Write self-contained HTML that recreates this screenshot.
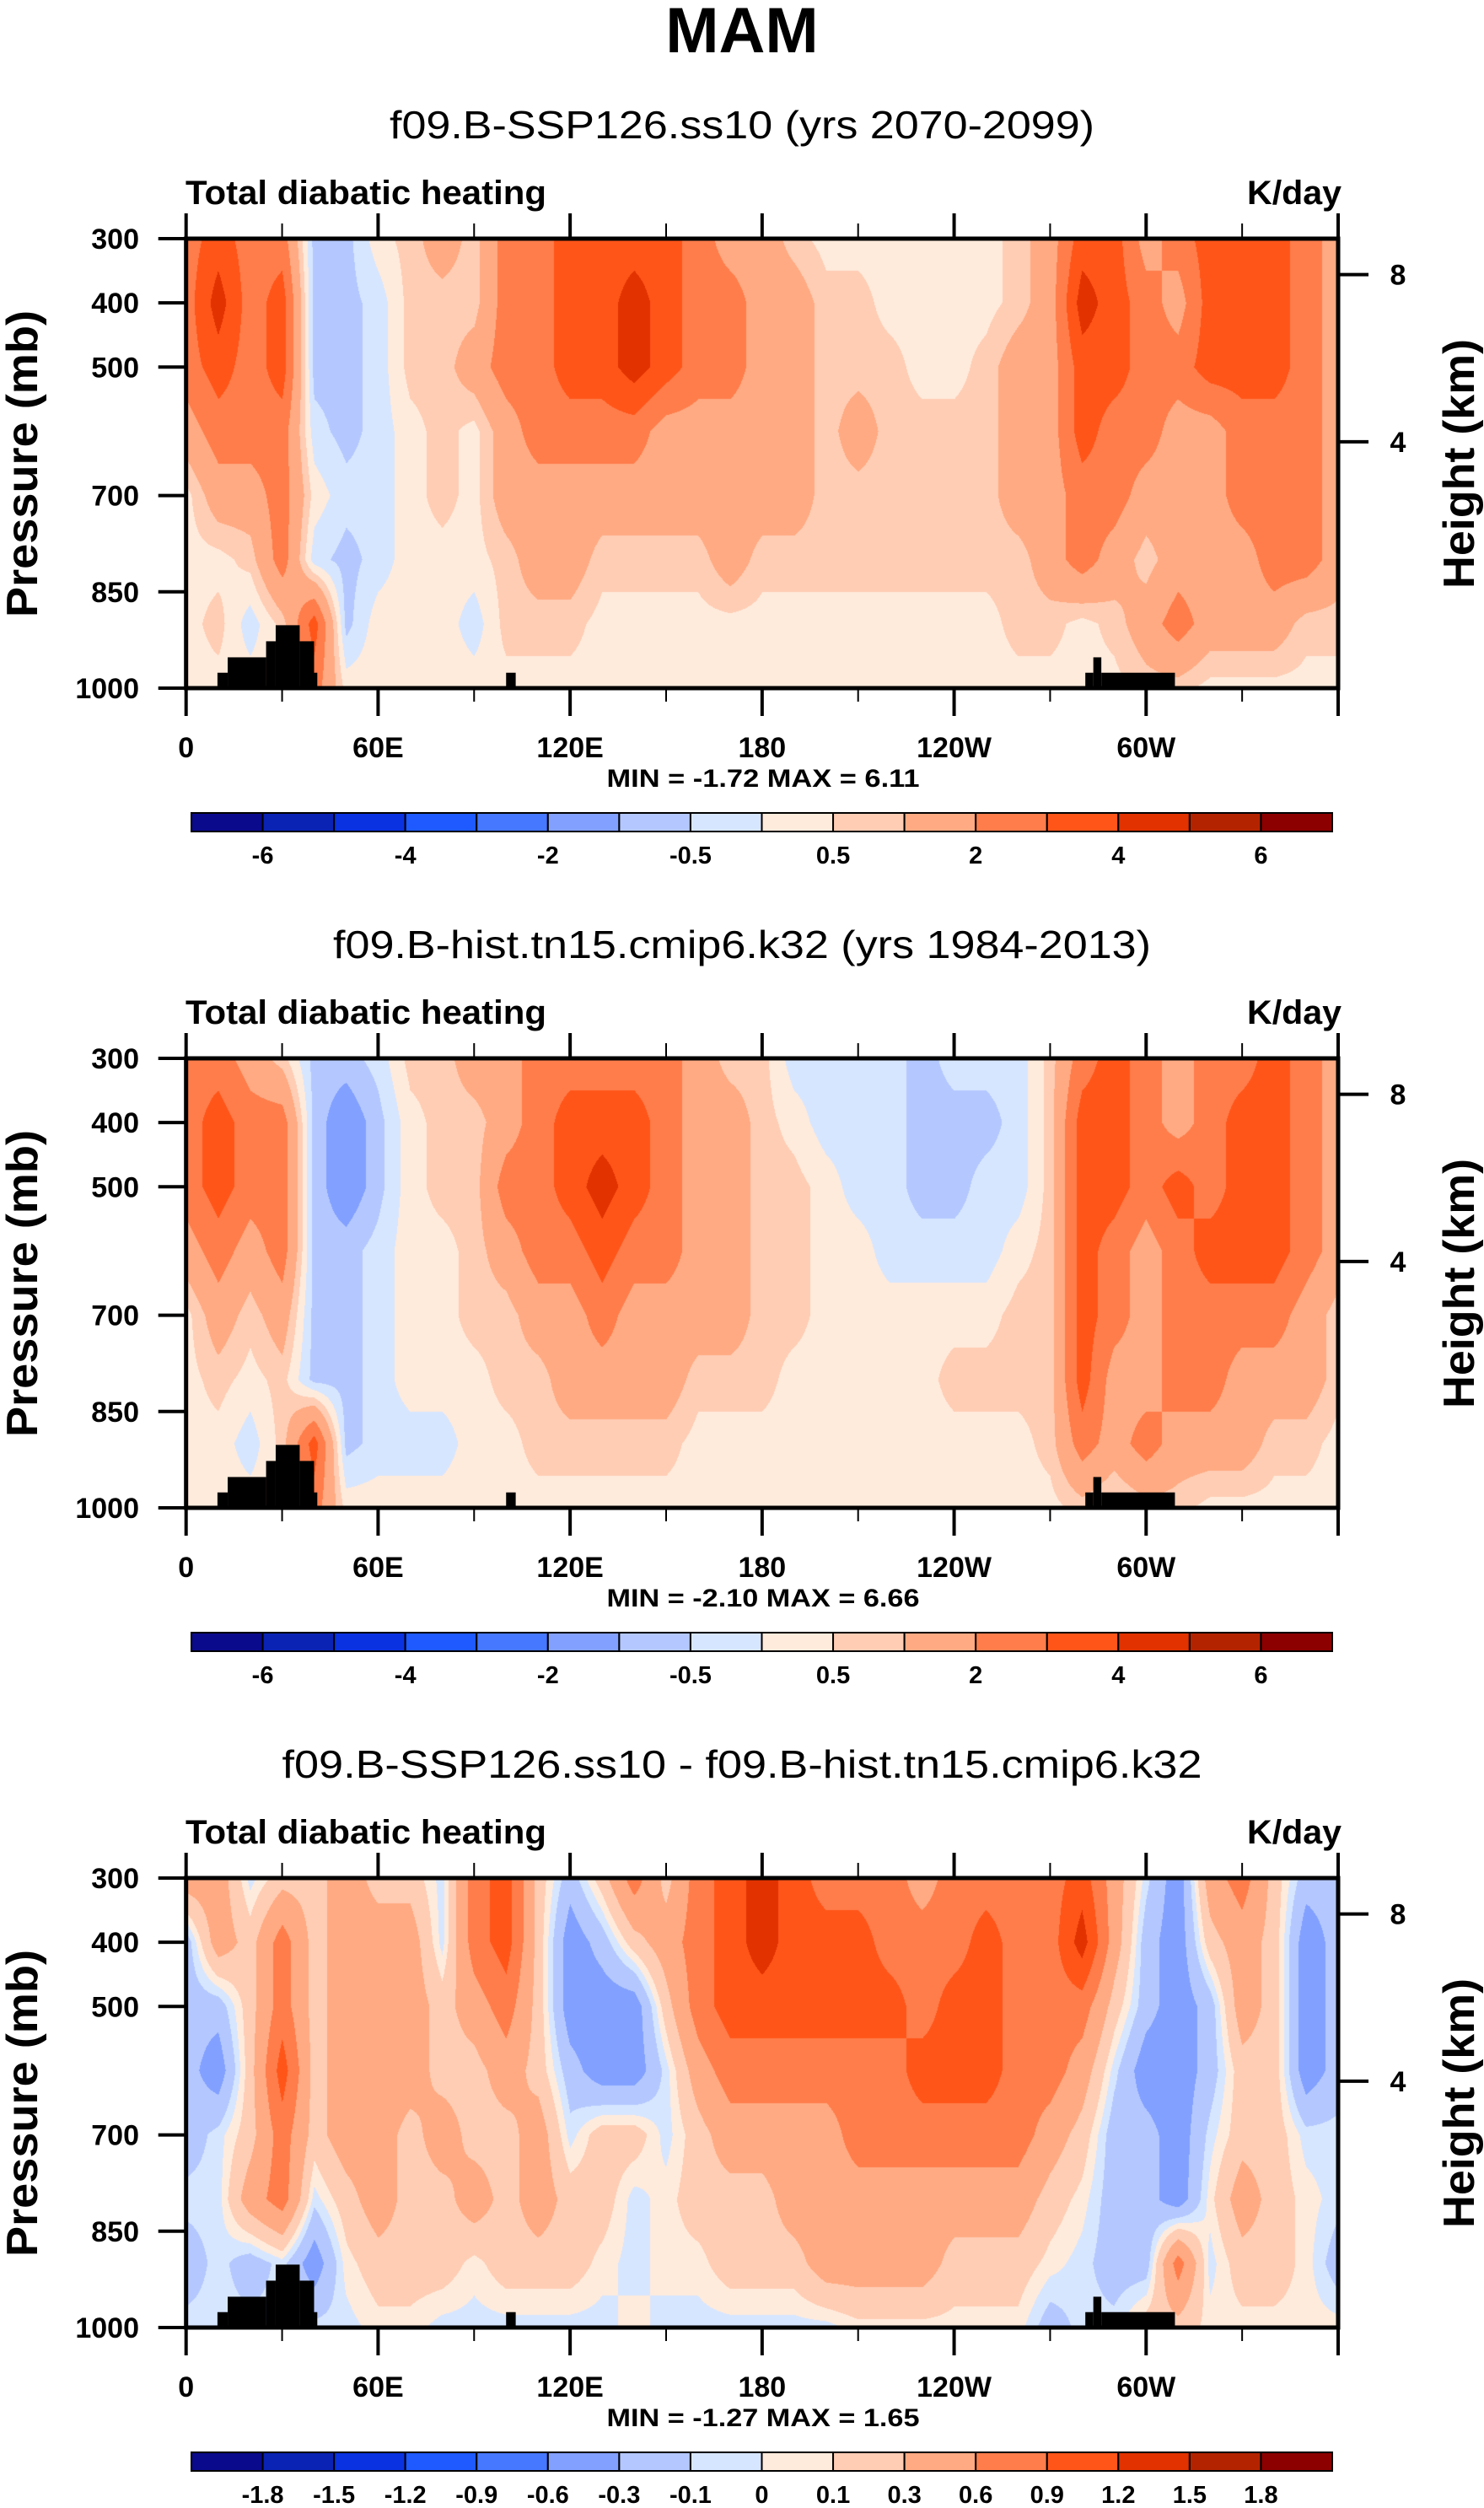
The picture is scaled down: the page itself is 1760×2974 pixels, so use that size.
<!DOCTYPE html>
<html><head><meta charset="utf-8">
<style>
html,body{margin:0;padding:0;background:#fff;}
#wrap{position:relative;width:1760px;height:2974px;overflow:hidden;}
canvas{position:absolute;}
svg{position:absolute;left:0;top:0;}
</style></head>
<body>
<div id="wrap">
<canvas id="c0"></canvas>
<canvas id="c1"></canvas>
<canvas id="c2"></canvas>
<svg id="svg" width="1760" height="2974" xmlns="http://www.w3.org/2000/svg"></svg>
</div>
<script>
// ---- data ----
const lons = [0,10,20,30,40,50,60,70,80,90,100,110,120,130,140,150,160,170,180,190,200,210,220,230,240,250,260,270,280,290,300,310,320,330,340,350,360];
const pLevels = [300,400,500,600,700,800,900,1000];
const xTickLabels = ["0","60E","120E","180","120W","60W"];
const yTickLabels = [300,400,500,700,850,1000];
const kmTicks = [8,4];
const titles = ["f09.B-SSP126.ss10 (yrs 2070-2099)","f09.B-hist.tn15.cmip6.k32 (yrs 1984-2013)","f09.B-SSP126.ss10 - f09.B-hist.tn15.cmip6.k32"];
const minmax = ["MIN =  -1.72  MAX =   6.11","MIN =  -2.10  MAX =   6.66","MIN =  -1.27  MAX =   1.65"];
const levelsAbs = [-6,-5,-4,-3,-2,-1,-0.5,0,0.5,1,2,3,4,5,6];
const levelsDiff = [-1.8,-1.5,-1.2,-0.9,-0.6,-0.3,-0.1,0,0.1,0.3,0.6,0.9,1.2,1.5,1.8];
const labelsAbs = ["-6","","-4","","-2","","-0.5","","0.5","","2","","4","","6"];
const labelsDiff = ["-1.8","-1.5","-1.2","-0.9","-0.6","-0.3","-0.1","0","0.1","0.3","0.6","0.9","1.2","1.5","1.8"];
const colors = ["#0a0a8c","#0a23b4","#0a32e1","#1e5aff","#4678ff","#82a0ff","#b4c8ff","#d7e6ff","#ffebdc","#ffcdb4","#ffaa82","#ff7d4b","#ff5519","#e13200","#b42300","#8c0000"];
const topoLon0 = [9.8,13,25,28,35.5,40,100,281,283.5,286];
const topoLon1 = [13,25,28,35.5,40,41,103,283.5,286,309];
const topoP = [976,952,927,902,927,976,976,976,952,976];

const p1 = [
[2.5,3.5,2.5,2.5,-0.7,-0.7,0.3,0.7,1.5,0.7,2.5,2.5,3.5,3.5,3.5,3.5,2.5,1.5,1.5,0.7,0.3,0.3,0.3,0.3,0.3,0.3,0.7,1.5,3.5,3.5,1.5,2.5,3.5,3.5,3.5,2.5,1.5],
[2.5,4.5,2.5,3.5,-0.7,-0.7,-0.3,0.7,0.7,0.7,2.5,2.5,3.5,3.5,4.5,3.5,2.5,2.5,1.5,1.5,0.7,0.7,0.3,0.3,0.3,0.3,0.7,1.5,4.5,3.5,2.5,1.5,3.5,3.5,3.5,2.5,1.5],
[2.5,3.5,2.5,3.5,-0.7,-0.7,-0.3,0.7,0.7,1.5,2.5,2.5,3.5,3.5,4.5,3.5,2.5,2.5,1.5,1.5,0.7,0.7,0.7,0.3,0.3,0.7,1.5,1.5,3.5,3.5,2.5,2.5,3.5,3.5,3.5,2.5,1.5],
[1.5,2.5,2.5,2.5,-0.3,-0.7,-0.3,0.3,0.7,0.3,1.5,2.5,2.5,2.5,2.5,1.5,1.5,1.5,1.5,1.5,0.7,1.5,0.7,0.7,0.7,0.7,1.5,1.5,3.5,2.5,2.5,1.5,1.5,2.5,2.5,2.5,1.5],
[0.3,1.5,1.5,2.5,0.3,-0.3,-0.3,0.3,0.7,0.3,1.5,1.5,1.5,1.5,1.5,1.5,1.5,1.5,1.5,1.5,0.7,0.7,0.7,0.7,0.7,0.7,1.5,1.5,2.5,2.5,1.5,1.5,1.5,2.5,2.5,2.5,1.5],
[0.3,0.3,0.7,2.5,-0.3,-0.7,-0.3,0.3,0.3,0.3,0.7,1.5,1.5,0.7,0.7,0.7,0.7,1.5,0.7,0.7,0.7,0.7,0.7,0.7,0.7,0.7,0.7,1.5,2.5,1.5,0.7,1.5,1.5,1.5,2.5,2.5,1.5],
[0.3,0.7,-0.3,0.7,3.5,-0.7,0.3,0.3,0.3,-0.3,0.7,0.7,0.7,0.3,0.3,0.3,0.3,0.3,0.3,0.3,0.3,0.3,0.3,0.3,0.3,0.3,0.7,0.7,0.3,0.7,1.5,2.5,1.5,1.5,1.5,0.7,0.7],
[0.3,0.3,0.3,0.3,2.5,0.3,0.3,0.3,0.3,0.3,0.3,0.3,0.3,0.3,0.3,0.3,0.3,0.3,0.3,0.3,0.3,0.3,0.3,0.3,0.3,0.3,0.3,0.3,0.3,0.3,0.7,0.7,0.3,0.3,0.3,0.3,0.3]
];
const p2 = [
[2.5,2.5,1.5,0.7,-0.7,-0.7,-0.3,0.7,0.7,1.5,1.5,2.5,2.5,2.5,2.5,2.5,1.5,0.7,0.7,-0.3,-0.3,-0.3,-0.3,-0.7,-0.3,-0.3,-0.3,0.7,2.5,3.5,2.5,1.5,2.5,2.5,3.5,2.5,1.5],
[2.5,3.5,2.5,2.5,-0.7,-1.5,-0.7,0.3,0.7,0.7,1.5,2.5,3.5,3.5,3.5,2.5,1.5,1.5,0.7,0.3,-0.3,-0.3,-0.3,-0.7,-0.7,-0.7,-0.3,0.7,3.5,3.5,2.5,1.5,2.5,3.5,3.5,2.5,1.5],
[2.5,3.5,2.5,2.5,-0.7,-1.5,-0.7,0.3,0.7,0.7,2.5,2.5,3.5,4.5,3.5,2.5,1.5,1.5,0.7,0.7,0.3,-0.3,-0.3,-0.7,-0.7,-0.3,-0.3,0.7,3.5,3.5,2.5,3.5,2.5,3.5,3.5,2.5,1.5],
[1.5,2.5,1.5,2.5,-0.7,-0.7,-0.3,0.3,0.3,0.7,1.5,2.5,2.5,3.5,2.5,2.5,1.5,1.5,0.7,0.7,0.3,0.3,-0.3,-0.3,-0.3,-0.3,0.3,0.7,3.5,2.5,1.5,2.5,3.5,3.5,3.5,2.5,1.5],
[0.3,1.5,0.7,1.5,-0.7,-0.7,-0.3,0.3,0.3,0.7,0.7,1.5,1.5,2.5,1.5,1.5,1.5,1.5,0.7,0.7,0.3,0.3,0.3,0.3,0.3,0.3,0.7,0.7,3.5,2.5,1.5,2.5,2.5,2.5,2.5,1.5,0.7],
[0.3,0.7,0.3,0.7,-0.7,-0.7,-0.3,0.3,0.3,0.3,0.7,0.7,1.5,1.5,1.5,1.5,0.7,0.7,0.7,0.3,0.3,0.3,0.3,0.3,0.7,0.7,0.7,0.7,3.5,1.5,1.5,2.5,2.5,1.5,1.5,1.5,0.7],
[0.3,0.3,-0.3,0.7,3.5,-0.7,-0.3,-0.3,-0.3,0.3,0.3,0.7,0.7,0.7,0.7,0.7,0.3,0.3,0.3,0.3,0.3,0.3,0.3,0.3,0.3,0.3,0.3,0.7,2.5,1.5,2.5,1.5,1.5,1.5,0.7,0.7,0.3],
[0.3,0.3,0.3,0.3,2.5,0.3,0.3,0.3,0.3,0.3,0.3,0.3,0.3,0.3,0.3,0.3,0.3,0.3,0.3,0.3,0.3,0.3,0.3,0.3,0.3,0.3,0.3,0.3,0.7,0.3,0.7,0.7,0.3,0.3,0.3,0.3,0.3]
];
const p3 = [
[0.45,0.45,-0.05,0.2,0.2,0.45,0.2,0.2,-0.05,0.75,1.05,0.2,-0.2,0.2,0.75,0.2,0.75,1.05,1.35,1.05,0.75,0.75,0.75,0.45,0.75,0.75,0.75,0.75,1.05,0.45,-0.05,-0.45,0.45,0.75,0.2,-0.2,-0.2],
[-0.2,0.45,0.2,0.75,0.2,0.45,0.45,0.45,-0.05,0.75,1.05,0.2,-0.45,-0.2,0.2,0.45,0.75,1.05,1.35,1.05,1.05,1.05,0.75,0.75,0.75,1.05,0.75,0.75,1.35,0.45,-0.2,-0.45,0.2,0.45,0.2,-0.45,-0.2],
[-0.2,-0.2,0.2,0.75,0.2,0.45,0.45,0.45,0.2,0.45,0.75,0.2,-0.45,-0.45,-0.45,0.2,0.75,1.05,1.05,1.05,1.05,1.05,1.05,0.75,1.05,1.05,0.75,0.75,0.75,0.2,-0.2,-0.45,-0.2,0.45,0.2,-0.45,-0.2],
[-0.2,-0.45,0.2,1.05,0.2,0.45,0.45,0.45,0.2,0.2,0.45,0.2,-0.2,-0.45,-0.45,-0.05,0.45,0.75,0.75,0.75,0.75,0.75,0.75,1.05,1.05,1.05,0.75,0.75,0.45,-0.05,-0.45,-0.45,-0.2,0.2,0.2,-0.45,-0.2],
[-0.2,-0.05,0.2,0.75,0.2,0.45,0.45,0.2,0.45,0.2,0.2,0.45,-0.05,0.2,0.2,-0.05,0.2,0.45,0.45,0.45,0.45,0.75,0.75,0.75,0.75,0.75,0.75,0.45,0.2,-0.2,-0.2,-0.45,-0.05,0.2,0.2,-0.05,-0.05],
[-0.05,-0.05,0.45,0.75,-0.05,0.2,0.45,0.2,0.2,0.45,0.2,0.45,0.2,0.2,-0.05,0.05,0.2,0.2,0.2,0.45,0.45,0.45,0.45,0.45,0.45,0.45,0.45,0.2,0.05,-0.2,-0.2,-0.45,0.05,0.45,0.2,0.05,-0.05],
[-0.2,-0.05,-0.2,-0.05,-0.45,0.05,0.2,0.2,0.2,0.05,0.2,0.2,0.2,0.05,-0.05,0.05,0.05,0.2,0.2,0.2,0.45,0.45,0.45,0.45,0.2,0.2,0.2,0.05,-0.05,-0.2,-0.2,0.75,-0.05,0.2,0.2,0.05,-0.2],
[-0.05,-0.05,-0.05,-0.05,-0.05,-0.05,0.05,0.05,-0.05,-0.05,-0.05,-0.05,-0.05,-0.05,0.05,-0.05,-0.05,-0.05,-0.05,-0.05,-0.05,0.05,0.05,0.05,0.05,0.05,0.05,-0.2,-0.05,-0.05,0.2,0.2,0.05,0.05,0.05,0.05,0.05]
];

// ---- layout ----
const PL=220.7, PR=1587, PT=283, PB=816, DY=972;
const CBL=227, CBR=1580, CBT=964, CBB=986;
function xOf(lon){return PL+(PR-PL)*lon/360;}
function yOf(p,off){return off+PT+(PB-PT)*(p-300)/700;}
function pOfKm(z){return 1013.25*Math.pow(1-2.25577e-5*z*1000,5.25588);}

const svg=document.getElementById('svg');
const NS='http://www.w3.org/2000/svg';
function el(tag,attrs,parent){const e=document.createElementNS(NS,tag);for(const k in attrs)e.setAttribute(k,attrs[k]);(parent||svg).appendChild(e);return e;}
function txt(s,attrs,parent){const e=el('text',attrs,parent);e.textContent=s;return e;}
const FONT='Liberation Sans, Arial, sans-serif';

const mt=txt('MAM',{x:880,y:62,'text-anchor':'middle','font-family':FONT,'font-weight':'bold','font-size':76});



function valueAt(grid,lon,p){
  let fi=lon/10; let i=Math.min(Math.floor(fi),35); let fx=fi-i;
  let fj=(p-300)/100; let j=Math.min(Math.floor(fj),6); let fy=fj-j;
  const a=grid[j][i],b=grid[j][i+1],c=grid[j+1][i],d=grid[j+1][i+1];
  return (a*(1-fx)+b*fx)*(1-fy)+(c*(1-fx)+d*fx)*fy;
}
function binOf(v,levels){let k=0;while(k<levels.length&&v>=levels[k])k++;return k;}
function hexRGB(h){return [parseInt(h.substr(1,2),16),parseInt(h.substr(3,2),16),parseInt(h.substr(5,2),16)];}
const rgb=colors.map(hexRGB);

const panels=[p1,p2,p3];
panels.forEach((grid,pi)=>{
  const off=pi*DY;
  const levels = pi===2?levelsDiff:levelsAbs;
  const labels = pi===2?labelsDiff:labelsAbs;
  const g=el('g',{});
  
  
  const cv=document.getElementById('c'+pi);
  const x0=Math.round(PL), y0=Math.round(yOf(300,off));
  const w=Math.round(PR)-x0, h=Math.round(yOf(1000,off))-y0;
  cv.width=w;cv.height=h;cv.style.left=x0+'px';cv.style.top=y0+'px';
  const ctx=cv.getContext('2d');const img=ctx.createImageData(w,h);
  for(let yy=0;yy<h;yy++){
    const p=300+700*(yy+0.5)/h;
    for(let xx=0;xx<w;xx++){
      const lon=360*(xx+0.5)/w;
      const c=rgb[binOf(valueAt(grid,lon,p),levels)];
      const idx=(yy*w+xx)*4;img.data[idx]=c[0];img.data[idx+1]=c[1];img.data[idx+2]=c[2];img.data[idx+3]=255;
    }
  }
  ctx.putImageData(img,0,0);
  for(let k=0;k<topoP.length;k++){
    const r=el('rect',{x:xOf(topoLon0[k]),y:yOf(topoP[k],off),width:xOf(topoLon1[k])-xOf(topoLon0[k]),height:yOf(1000,off)-yOf(topoP[k],off),fill:'#000'},g);
    
    
  }
  const fr=el('rect',{x:PL,y:yOf(300,off),width:PR-PL,height:yOf(1000,off)-yOf(300,off),fill:'none',stroke:'#000','stroke-width':5},g);
  
  
  for(let lon=0;lon<=360;lon+=30){
    const major=lon%60===0;
    const x=xOf(lon);
    el('line',{x1:x,x2:x,y1:yOf(300,off),y2:yOf(300,off)-(major?30:18),stroke:'#000','stroke-width':major?4:2},g);
    el('line',{x1:x,x2:x,y1:yOf(1000,off),y2:yOf(1000,off)+(major?33:16),stroke:'#000','stroke-width':major?4:2},g);
  }
  xTickLabels.forEach((s,k)=>{
    const t=txt(s,{x:xOf(k*60),y:off+898,'text-anchor':'middle','font-family':FONT,'font-weight':'bold','font-size':34},g);
    
    
  });
  yTickLabels.forEach(p=>{
    const y=yOf(p,off);
    el('line',{x1:PL-33,x2:PL,y1:y,y2:y,stroke:'#000','stroke-width':4},g);
    const t=txt(String(p),{x:165,y:y+12,'text-anchor':'end','font-family':FONT,'font-weight':'bold','font-size':34},g);
    
    
  });
  kmTicks.forEach(z=>{
    const y=yOf(pOfKm(z),off);
    el('line',{x1:PR,x2:PR+36,y1:y,y2:y,stroke:'#000','stroke-width':4},g);
    const t=txt(String(z),{x:1658,y:y+12,'text-anchor':'middle','font-family':FONT,'font-weight':'bold','font-size':34},g);
    
    
  });
  const ya=txt('Pressure (mb)',{x:0,y:0,transform:`translate(44,${off+550}) rotate(-90)`,'text-anchor':'middle','font-family':FONT,'font-weight':'bold','font-size':52,textLength:364,lengthAdjust:'spacingAndGlyphs'},g);
  
  
  const yb=txt('Height (km)',{x:0,y:0,transform:`translate(1748,${off+550}) rotate(-90)`,'text-anchor':'middle','font-family':FONT,'font-weight':'bold','font-size':52,textLength:296,lengthAdjust:'spacingAndGlyphs'},g);
  
  
  const tw=[836,970,1091][pi];
  const st=txt(titles[pi],{x:880,y:off+164,'text-anchor':'middle','font-family':FONT,'font-size':46,textLength:tw,lengthAdjust:'spacingAndGlyphs'},g);
  
  
  const lt=txt('Total diabatic heating',{x:220,y:off+242,'font-family':FONT,'font-weight':'bold','font-size':40,textLength:428,lengthAdjust:'spacingAndGlyphs'},g);
  
  
  const ut=txt('K/day',{x:1591,y:off+242,'text-anchor':'end','font-family':FONT,'font-weight':'bold','font-size':40,textLength:112,lengthAdjust:'spacingAndGlyphs'},g);
  
  
  const mm=txt(minmax[pi],{x:905,y:off+933,'text-anchor':'middle','font-family':FONT,'font-weight':'bold','font-size':30,'xml:space':'preserve',textLength:371,lengthAdjust:'spacingAndGlyphs'},g);
  
  
  const bw=(CBR-CBL)/colors.length;
  colors.forEach((c,k)=>{
    const r=el('rect',{x:CBL+k*bw,y:off+CBT,width:bw,height:CBB-CBT,fill:c,stroke:'#000','stroke-width':2},g);
    
    
  });
  labels.forEach((s,k)=>{
    if(!s)return;
    const t=txt(s,{x:CBL+(k+1)*bw,y:off+1024,'text-anchor':'middle','font-family':FONT,'font-weight':'bold','font-size':29},g);
    
    
  });
});
</script>
</body></html>
